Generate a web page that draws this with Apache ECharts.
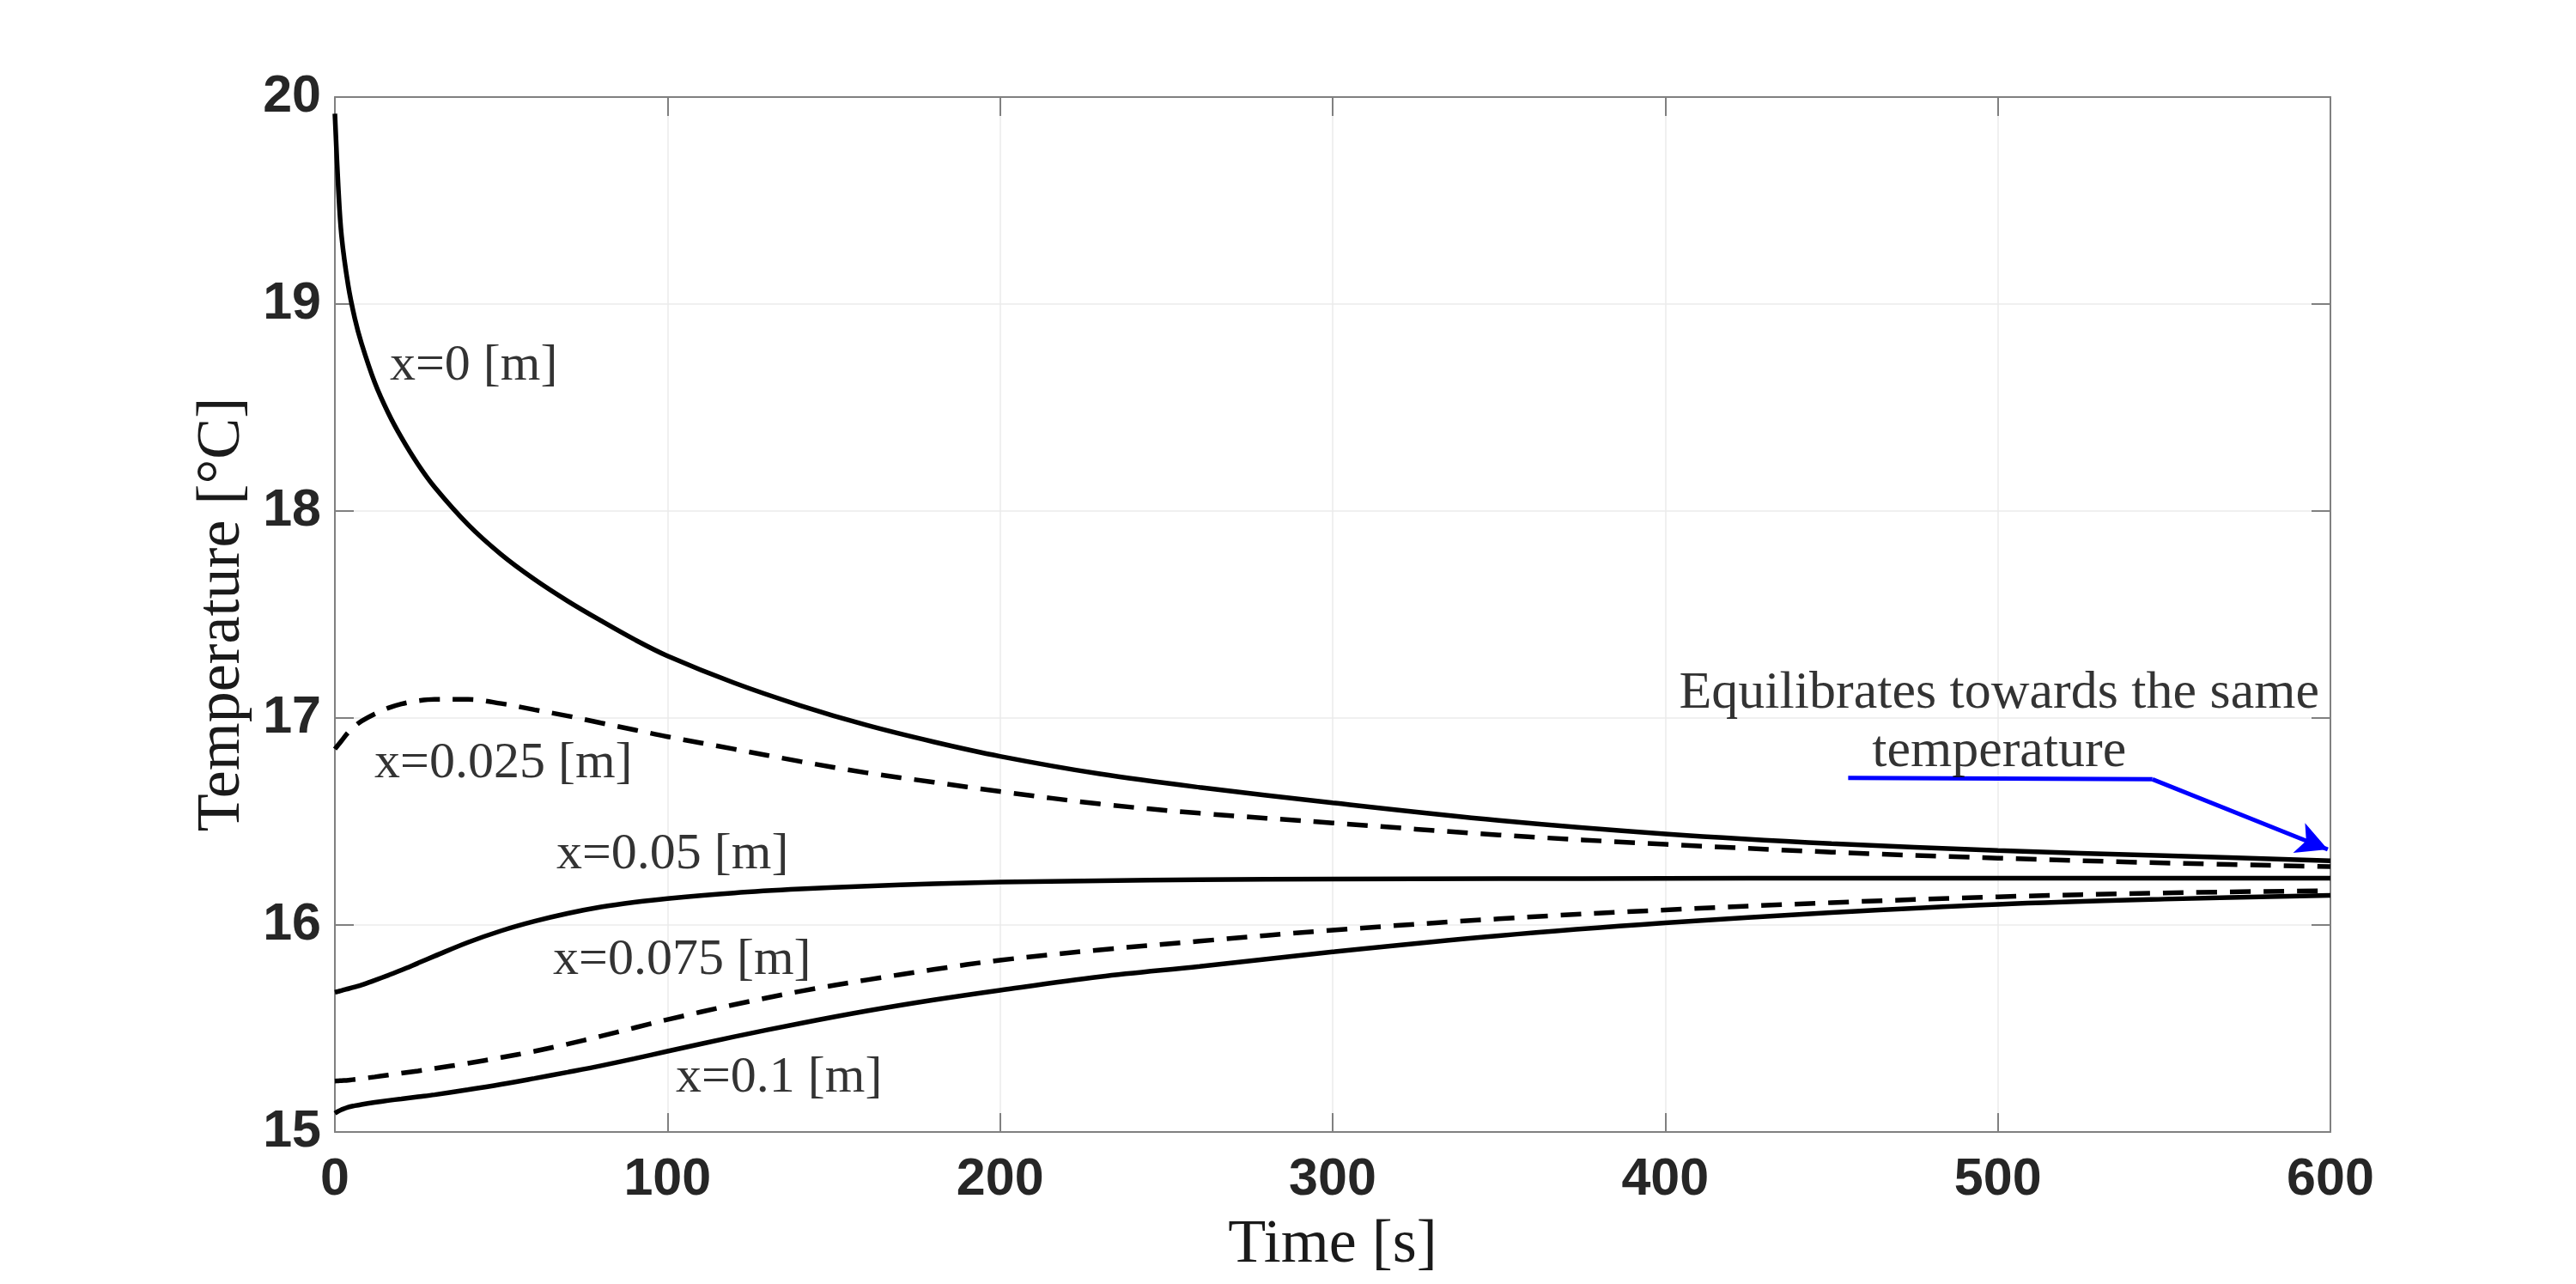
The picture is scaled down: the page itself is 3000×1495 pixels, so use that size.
<!DOCTYPE html>
<html>
<head>
<meta charset="utf-8">
<script src="https://cdn.jsdelivr.net/npm/echarts@6/dist/echarts.min.js"></script>
<style>
  html, body { margin: 0; padding: 0; background: #ffffff; }
  #chart { width: 3000px; height: 1495px; }
</style>
</head>
<body>
<div id="chart"></div>
<script>
// ---- data ----
const times = [0, 1, 2, 4, 6, 8, 12, 16, 20, 25, 30, 40, 50, 60, 70, 80, 90, 100, 120, 140, 160, 180, 200, 230, 260, 300, 350, 400, 450, 500, 550, 600];

const tempX0 = [19.92, 19.57, 19.33, 19.09, 18.93, 18.81, 18.62, 18.475, 18.355, 18.225, 18.115, 17.935, 17.79, 17.67, 17.565, 17.47, 17.38, 17.30, 17.17, 17.06, 16.965, 16.885, 16.815, 16.73, 16.665, 16.59, 16.505, 16.44, 16.393, 16.36, 16.335, 16.31];
const tempX025 = [16.85, 16.87, 16.89, 16.93, 16.96, 16.985, 17.02, 17.048, 17.068, 17.083, 17.09, 17.09, 17.07, 17.04, 17.01, 16.976, 16.943, 16.91, 16.85, 16.79, 16.735, 16.69, 16.645, 16.585, 16.54, 16.493, 16.435, 16.39, 16.352, 16.323, 16.30, 16.282];
const tempX05 = [15.675, 15.679, 15.683, 15.692, 15.701, 15.710, 15.733, 15.757, 15.782, 15.816, 15.850, 15.916, 15.972, 16.018, 16.056, 16.087, 16.110, 16.128, 16.155, 16.174, 16.188, 16.199, 16.207, 16.214, 16.219, 16.222, 16.224, 16.225, 16.226, 16.226, 16.226, 16.226];
const tempX075 = [15.246, 15.247, 15.248, 15.25, 15.254, 15.258, 15.266, 15.275, 15.284, 15.295, 15.307, 15.332, 15.36, 15.39, 15.425, 15.463, 15.503, 15.543, 15.615, 15.68, 15.735, 15.785, 15.83, 15.88, 15.922, 15.975, 16.03, 16.073, 16.108, 16.136, 16.155, 16.166];
const tempX10 = [15.09, 15.10, 15.108, 15.12, 15.127, 15.133, 15.143, 15.152, 15.16, 15.17, 15.18, 15.204, 15.23, 15.259, 15.289, 15.32, 15.354, 15.39, 15.46, 15.525, 15.585, 15.638, 15.685, 15.75, 15.80, 15.87, 15.948, 16.01, 16.06, 16.10, 16.125, 16.143];

const seriesNames = ['x=0 [m]', 'x=0.025 [m]', 'x=0.05 [m]', 'x=0.075 [m]', 'x=0.1 [m]'];
const seriesDashed = [false, true, false, true, false];

// curve labels: [time, temperature, text]
const curveLabels = [
  [16.5, 18.70, 'x=0 [m]'],
  [11.9, 16.78, 'x=0.025 [m]'],
  [66.6, 16.34, 'x=0.05 [m]'],
  [65.6, 15.83, 'x=0.075 [m]'],
  [102.5, 15.26, 'x=0.1 [m]']
];

// annotation text and arrow path (data coordinates)
const noteText = [[500.4, 16.975, 'Equilibrates towards the same\ntemperature']];
const arrowPath = [[455, 16.711], [546.5, 16.704], [599.2, 16.365]];

const xTicks = { min: 0, max: 600, interval: 100 };
const yTicks = { min: 15, max: 20, interval: 1 };

// ---- chart ----
const allSeriesValues = [tempX0, tempX025, tempX05, tempX075, tempX10];
const chart = echarts.init(document.getElementById('chart'), null, { renderer: 'canvas' });

const axisColor = '#808080';
const tickFont = { fontFamily: 'Liberation Sans', fontWeight: 'bold', fontSize: 61, color: '#262626' };
const nameFont = { fontFamily: 'Liberation Serif', fontSize: 72, color: '#1a1a1a' };

const lineSeries = allSeriesValues.map((vals, i) => ({
  name: seriesNames[i],
  type: 'line',
  xAxisIndex: 0,
  yAxisIndex: 0,
  data: times.map((t, k) => [t, vals[k]]),
  showSymbol: false,
  smooth: 0.35,
  lineStyle: { color: '#000000', width: 5.5, type: seriesDashed[i] ? [24, 15] : 'solid' },
  z: 5
}));

// arrow via markLine on first series
lineSeries[0].markLine = {
  silent: true,
  animation: false,
  label: { show: false },
  lineStyle: { color: '#0000ff', width: 5, type: 'solid' },
  symbolSize: [28, 36],
  data: [
    [{ coord: arrowPath[0], symbol: 'none' }, { coord: arrowPath[1], symbol: 'none' }],
    [{ coord: arrowPath[1], symbol: 'none' }, { coord: arrowPath[2], symbol: 'arrow' }]
  ]
};

const labelSeries = {
  type: 'scatter',
  xAxisIndex: 0,
  yAxisIndex: 0,
  symbolSize: 0,
  silent: true,
  data: curveLabels.map(d => ({ value: [d[0], d[1]], name: d[2] })),
  label: {
    show: true,
    position: 'right',
    distance: 0,
    formatter: p => p.name,
    fontFamily: 'Liberation Serif',
    fontSize: 60,
    color: '#000000'
  },
  z: 6
};

const noteSeries = {
  type: 'scatter',
  xAxisIndex: 0,
  yAxisIndex: 0,
  symbolSize: 0,
  silent: true,
  data: noteText.map(d => ({ value: [d[0], d[1]], name: d[2] })),
  label: {
    show: true,
    position: 'inside',
    align: 'center',
    verticalAlign: 'middle',
    formatter: p => p.name,
    fontFamily: 'Liberation Serif',
    fontSize: 62,
    lineHeight: 68,
    color: '#000000'
  },
  z: 6
};

const option = {
  animation: false,
  backgroundColor: '#ffffff',
  grid: { left: 390, right: 286, top: 113, bottom: 177, containLabel: false },
  xAxis: [
    {
      type: 'value', position: 'bottom',
      min: xTicks.min, max: xTicks.max, interval: xTicks.interval,
      name: 'Time [s]', nameLocation: 'middle', nameGap: 96,
      nameTextStyle: nameFont,
      axisLine: { show: true, onZero: false, lineStyle: { color: axisColor, width: 2 } },
      axisTick: { show: true, inside: true, length: 22, lineStyle: { color: axisColor, width: 2 } },
      axisLabel: Object.assign({ margin: 26 }, tickFont),
      splitLine: { show: true, lineStyle: { color: '#ebebeb', width: 1.5 } }
    },
    {
      type: 'value', position: 'top',
      min: xTicks.min, max: xTicks.max, interval: xTicks.interval,
      axisLine: { show: true, onZero: false, lineStyle: { color: axisColor, width: 2 } },
      axisTick: { show: true, inside: true, length: 22, lineStyle: { color: axisColor, width: 2 } },
      axisLabel: { show: false },
      splitLine: { show: false }
    }
  ],
  yAxis: [
    {
      type: 'value', position: 'left',
      min: yTicks.min, max: yTicks.max, interval: yTicks.interval,
      name: 'Temperature [°C]', nameLocation: 'middle', nameGap: 95,
      nameTextStyle: nameFont,
      axisLine: { show: true, onZero: false, lineStyle: { color: axisColor, width: 2 } },
      axisTick: { show: true, inside: true, length: 22, lineStyle: { color: axisColor, width: 2 } },
      axisLabel: Object.assign({ margin: 16 }, tickFont),
      splitLine: { show: true, lineStyle: { color: '#ebebeb', width: 1.5 } }
    },
    {
      type: 'value', position: 'right',
      min: yTicks.min, max: yTicks.max, interval: yTicks.interval,
      axisLine: { show: true, onZero: false, lineStyle: { color: axisColor, width: 2 } },
      axisTick: { show: true, inside: true, length: 22, lineStyle: { color: axisColor, width: 2 } },
      axisLabel: { show: false },
      splitLine: { show: false }
    }
  ],
  series: lineSeries.concat([labelSeries, noteSeries])
};

chart.setOption(option);
</script>
</body>
</html>
